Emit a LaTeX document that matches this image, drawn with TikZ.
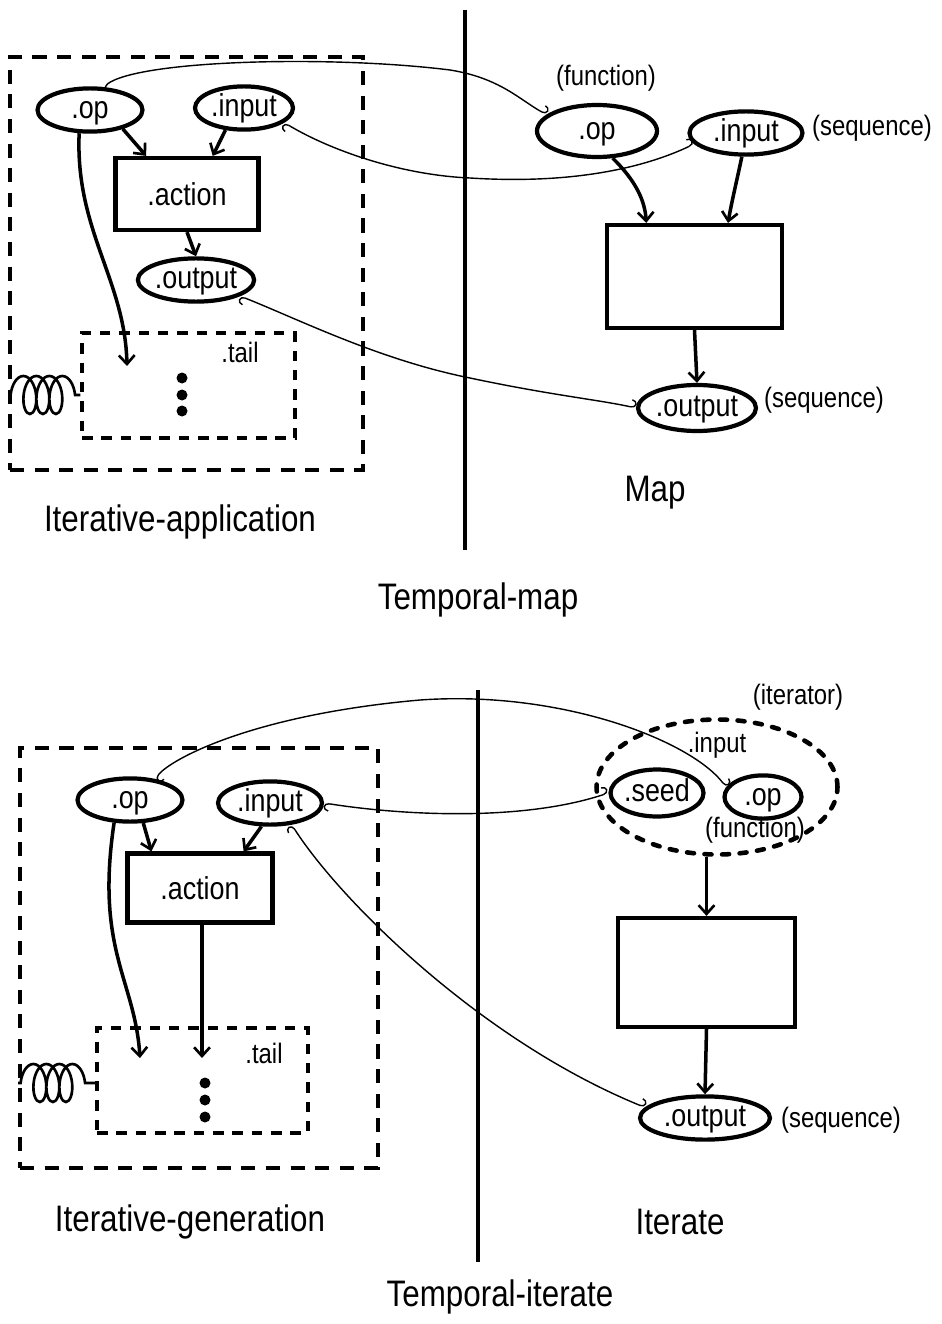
\documentclass[tikz,border=0pt]{standalone}
\usepackage{fontspec}
\newfontfamily\hand[FakeStretch=0.85]{Liberation Sans}
\usetikzlibrary{arrows.meta,shapes.geometric,decorations.pathmorphing}
\tikzset{
  blob/.style={ellipse, draw, line width=2.4pt, inner sep=0pt, text height=13.4pt, text depth=4pt, font=\hand\fontsize{18}{20}\selectfont},
  actbox/.style={rectangle, draw, line width=2.4pt, inner sep=0pt, font=\hand\fontsize{18}{20}\selectfont},
  dbox/.style={rectangle, draw, line width=2.2pt, dash pattern=on 8pt off 6pt},
  tbox/.style={rectangle, draw, line width=1.8pt, dash pattern=on 6pt off 5pt},
  dell/.style={ellipse, draw, line width=2.6pt, dash pattern=on 4pt off 6pt, line cap=round},
  flow/.style={line width=2pt, -{Straight Barb[length=5pt,width=9pt,line width=1.5pt]}},
  wire/.style={line width=0.8pt, {Hooks[left,length=3pt,width=9pt]}-{Hooks[left,length=3pt,width=9pt]}},
  lab/.style={font=\hand\fontsize{21}{24}\selectfont},
  note/.style={font=\hand\fontsize{16}{18}\selectfont},
  divider/.style={line width=2.4pt},
  dotn/.style={circle, fill, inner sep=0pt, minimum size=0.22cm},
  spring/.style={line width=1.5pt, decorate, decoration={coil, aspect=0.5, segment length=0.26cm, amplitude=0.38cm, pre length=0.05cm, post length=0.05cm}},
}
\begin{document}
\begin{tikzpicture}[x=0.02cm,y=-0.02cm]
\useasboundingbox (0,0) rectangle (942,1324);
\fill[white] (0,0) rectangle (942,1324);

% ---------------- top left: Iterative-application
\node[dbox, minimum width=7.06cm, minimum height=8.26cm] (outerA) at (186.5,263.5) {};
\node[blob, minimum width=2.1cm, minimum height=0.76cm] (opA) at (90,110) {.op};
\node[blob, minimum width=1.96cm, minimum height=0.72cm] (inA) at (244,108) {.input};
\node[actbox, minimum width=2.86cm, minimum height=1.44cm] (actA) at (187,194) {.action};
\node[blob, minimum width=2.04cm, minimum height=0.68cm] (outA) at (196,280) {.output};
\node[tbox, minimum width=4.26cm, minimum height=2.1cm] (tailA) at (188.5,385.5) {};
\node[note] (tailAl) at (240,352) {.tail};
\node[dotn] (dA1) at (182,378) {};
\node[dotn] (dA2) at (182,395) {};
\node[dotn] (dA3) at (182,411) {};
\coordinate (tAin) at (127,366);
\draw[spring] (outerA.west |- dA2) -- (tailA.west |- dA2);
\draw[flow] (opA.-30) -- (actA.137);
\draw[flow] (inA.-130) -- (actA.56);
\draw[flow] (actA.south) -- (outA.north);
\draw[flow] (opA.-115) .. controls (75,230) and (125,280) .. (tAin);
\node[lab] (nameA) at (180,522) {Iterative-application};

% ---------------- top right: Map
\draw[divider] (465,10) -- (465,550);
\node[blob, minimum width=2.4cm, minimum height=1.04cm] (opB) at (597,131) {.op};
\node[blob, minimum width=2.26cm, minimum height=0.86cm] (inB) at (746,133) {.input};
\node[actbox, minimum width=3.5cm, minimum height=2.06cm] (boxB) at (694.5,276.5) {};
\node[blob, minimum width=2.36cm, minimum height=0.92cm] (outB) at (697,408) {.output};
\node[note] (fnB) at (606,78) {(function)};
\node[note, anchor=west] (seqB1) at (806,128) {(sequence)};
\node[note, anchor=west] (seqB2) at (758,400) {(sequence)};
\draw[flow] (opB.-60) .. controls (635,180) and (645,200) .. (boxB.132);
\draw[flow] (inB.-100) .. controls (737,180) and (732,200) .. (boxB.58);
\draw[flow] (boxB.south) -- (outB.north);
\node[lab] (nameB) at (655,493) {Map};
\node[lab] (nameAB) at (478,600) {Temporal-map};

% top wires
\draw[wire] (opA.60) .. controls (140,60) and (330,55) .. (450,70) .. controls (500,78) and (520,100) .. (opB.162);
\draw[wire] (inA.-20) .. controls (330,150) and (400,175) .. (470,178) .. controls (580,185) and (650,165) .. (inB.192);
\draw[wire] (outA.-20) .. controls (300,320) and (380,360) .. (470,378) .. controls (550,395) and (600,400) .. (outB.180);

% ---------------- bottom left: Iterative-generation
\node[dbox, minimum width=7.16cm, minimum height=8.4cm] (outerC) at (199,958) {};
\node[blob, minimum width=2.1cm, minimum height=0.72cm] (opC) at (130,800) {.op};
\node[blob, minimum width=2.08cm, minimum height=0.72cm] (inC) at (270,803) {.input};
\node[actbox, minimum width=2.9cm, minimum height=1.38cm] (actC) at (200,888) {.action};
\node[tbox, minimum width=4.22cm, minimum height=2.1cm] (tailC) at (202.5,1080.5) {};
\node[note] (tailCl) at (264,1053) {.tail};
\node[dotn] (dC1) at (205,1083) {};
\node[dotn] (dC2) at (205,1100) {};
\node[dotn] (dC3) at (205,1117) {};
\coordinate (tCin1) at (140,1058);
\coordinate (tCin2) at (202,1058);
\draw[spring] (outerC.west |- dC1) -- (tailC.west |- dC1);
\draw[flow] (opC.-60) -- (actC.143);
\draw[flow] (inC.-110) -- (actC.40);
\draw[flow] (opC.-125) .. controls (95,950) and (135,980) .. (tCin1);
\draw[flow] (actC.south -| tCin2) -- (tCin2);
\node[lab] (nameC) at (190,1222) {Iterative-generation};

% ---------------- bottom right: Iterate
\draw[divider] (478,690) -- (478,1262);
\node[dell, minimum width=4.82cm, minimum height=2.7cm] (iterIn) at (717,787) {};
\node[note] (inDl) at (717,745) {.input};
\node[note] (itD) at (798,697) {(iterator)};
\node[blob, minimum width=1.7cm, minimum height=0.94cm] (seedD) at (657,793) {.seed};
\node[blob, minimum width=1.54cm, minimum height=0.8cm] (opD) at (763,797) {.op};
\node[note] (fnD) at (755,830) {(function)};
\node[actbox, minimum width=3.54cm, minimum height=2.18cm] (boxD) at (706.5,972.5) {};
\node[blob, minimum width=2.6cm, minimum height=0.86cm] (outD) at (705,1118) {.output};
\node[note, anchor=west] (seqD) at (775,1120) {(sequence)};
\draw[flow] (iterIn.south -| boxD.north) -- (boxD.north);
\draw[flow] (boxD.south) -- (outD.north);
\node[lab] (nameD) at (680,1222) {Iterate};
\node[lab] (nameCD) at (500,1297) {Temporal-iterate};

% bottom wires
\draw[wire] (opC.40) .. controls (170,760) and (250,715) .. (420,700) .. controls (560,690) and (690,740) .. (opD.165);
\draw[wire] (inC.0) .. controls (400,815) and (520,822) .. (seedD.180);
\draw[wire] (inC.-45) .. controls (340,900) and (480,1040) .. (outD.170);
\end{tikzpicture}
\end{document}
